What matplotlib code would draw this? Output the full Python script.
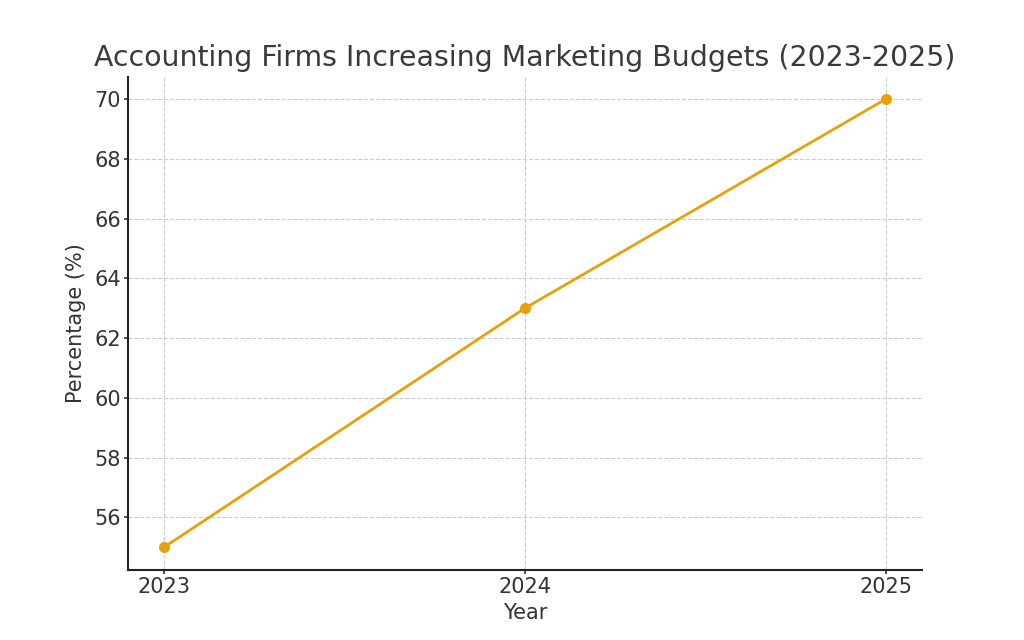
import matplotlib
matplotlib.use("Agg")
import matplotlib.pyplot as plt

plt.rcParams['font.family'] = ['DejaVu Sans']

# 数据
years = [2023, 2024, 2025]
percentages = [55, 63, 70]
year_labels = ['2023', '2024', '2025']

fig, ax = plt.subplots(figsize=(10.24, 6.4), dpi=100)

ax.plot(years, percentages, color='#E8A10C', linewidth=2, marker='o', markersize=7)

ax.set_title('Accounting Firms Increasing Marketing Budgets (2023-2025)',
             fontsize=20.4, color='#3a3a3a', pad=8)
ax.set_xlabel('Year', fontsize=15, color='#333333', labelpad=5)
ax.set_ylabel('Percentage (%)', fontsize=15, color='#333333', labelpad=6)
ax.set_xticks(years)
ax.set_xticklabels(year_labels)
ax.tick_params(labelsize=15, colors='#333333', length=3, width=1.2, pad=2)

ax.grid(True, linestyle='--', color='#cccccc', linewidth=0.8)
for side in ['top', 'right']:
    ax.spines[side].set_visible(False)
for side in ['left', 'bottom']:
    ax.spines[side].set_color('#222222')
    ax.spines[side].set_linewidth(1.5)

fig.savefig('out.png', dpi=100)
